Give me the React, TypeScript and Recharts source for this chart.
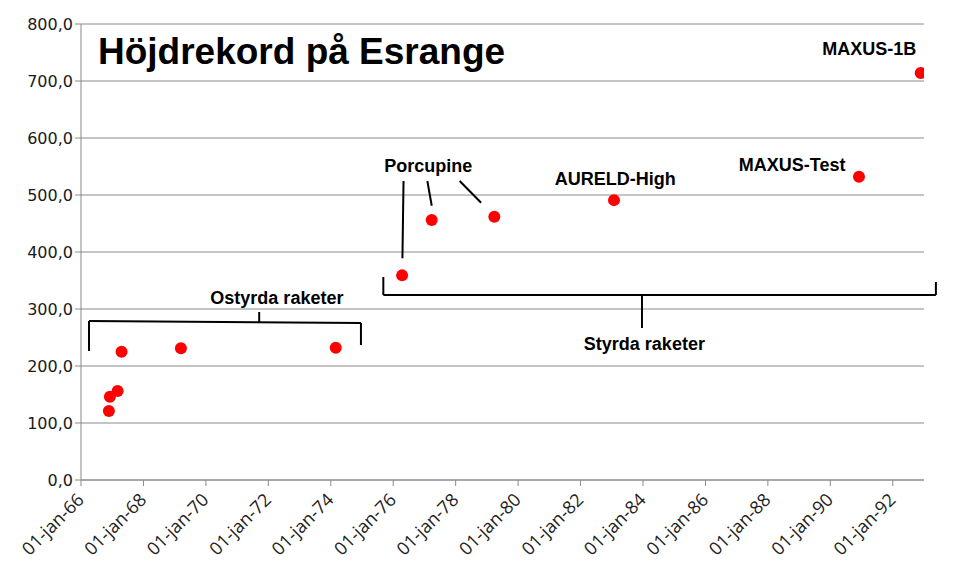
import React from 'react';
import {
  ScatterChart,
  Scatter,
  XAxis,
  YAxis,
  CartesianGrid,
  ReferenceLine,
  ReferenceDot,
} from 'recharts';

// ---- Data ----
const launchDates: string[] = [
  '1966-11-23',
  '1966-12-05',
  '1967-03-05',
  '1967-04-20',
  '1969-03-15',
  '1974-02-28',
  '1976-04-14',
  '1977-03-27',
  '1979-03-29',
  '1983-01-27',
  '1990-12-02',
  '1992-11-23',
];
const apogeeKm: number[] = [121, 146, 156, 225, 231, 232, 359, 456, 462, 491, 532, 714];

const xTickYears: number[] = [1966, 1968, 1970, 1972, 1974, 1976, 1978, 1980, 1982, 1984, 1986, 1988, 1990, 1992];
const yTicks: number[] = [0, 100, 200, 300, 400, 500, 600, 700, 800];

const titleText = 'Höjdrekord på Esrange';

// text annotations: label, year, km
const labelNames: string[] = ['Porcupine', 'AURELD-High', 'MAXUS-Test', 'MAXUS-1B', 'Ostyrda raketer', 'Styrda raketer'];
const labelYears: number[] = [1977.125, 1983.108, 1988.777, 1991.245, 1972.274, 1984.044];
const labelKm: number[] = [550.9, 528.1, 553.2, 757.0, 319.3, 239.1];

// annotation line segments: [x1, y1, x2, y2] in (year, km)
const bracketOstyrda: number[][] = [
  [1966.256, 226.3, 1966.256, 278.9],
  [1966.256, 278.9, 1974.966, 275.4],
  [1974.966, 275.4, 1974.966, 236.8],
  [1971.707, 294.7, 1971.707, 277.2],
];
const bracketStyrda: number[][] = [
  [1975.683, 356.1, 1975.683, 324.6],
  [1975.683, 324.6, 1993.381, 324.6],
  [1993.381, 324.6, 1993.381, 347.4],
  [1983.967, 324.6, 1983.967, 266.7],
];
const porcupineLines: number[][] = [
  [1976.33, 524.6, 1976.295, 388.9],
  [1977.093, 524.6, 1977.234, 481.2],
  [1978.129, 524.6, 1978.815, 486.5],
];

// ---- helpers ----
const toYear = (iso: string): number => {
  const d = new Date(iso + 'T00:00:00Z');
  const y = d.getUTCFullYear();
  const start = Date.UTC(y, 0, 1);
  const end = Date.UTC(y + 1, 0, 1);
  return y + (d.getTime() - start) / (end - start);
};

const points = launchDates.map((d, i) => ({ x: toYear(d), y: apogeeKm[i] }));

const fmtX = (v: number) => `01-jan-${String(Math.round(v) % 100).padStart(2, '0')}`;
const fmtY = (v: number) => v.toFixed(1).replace('.', ',');

const XTick = (props: any) => {
  const { x, y, payload } = props;
  const ax = x + 4;
  const ay = y + 13;
  return (
    <text
      x={ax}
      y={ay}
      textAnchor="end"
      transform={`rotate(-45 ${ax} ${ay})`}
      fontSize={18}
      fontFamily="'Open Sans', sans-serif"
      fill="#222"
    >
      {fmtX(payload.value)}
    </text>
  );
};

const RedDot = (props: any) => <circle cx={props.cx} cy={props.cy} r={6} fill="#ff0000" />;

const segs = [...bracketOstyrda, ...bracketStyrda, ...porcupineLines];

export default function App() {
  return (
    <div style={{ position: 'relative', width: 951, height: 569 }}>
      <ScatterChart width={951} height={569} margin={{ top: 16, right: 35, bottom: 5, left: 0 }}>
        <CartesianGrid vertical={false} stroke="#8a8a8a" strokeWidth={1} />
        <XAxis
          type="number"
          dataKey="x"
          domain={[1966, 1993]}
          ticks={xTickYears}
          interval={0}
          tick={<XTick />}
          height={92}
          stroke="#8a8a8a"
          tickLine={{ stroke: '#8a8a8a' }}
          axisLine={{ stroke: '#8a8a8a' }}
          allowDataOverflow
        />
        <YAxis
          type="number"
          dataKey="y"
          domain={[0, 800]}
          ticks={yTicks}
          interval={0}
          tickFormatter={fmtY}
          width={73}
          stroke="#8a8a8a"
          tick={{ fill: '#1a1a1a', fontSize: 16, fontFamily: "'DejaVu Sans', sans-serif" }}
          axisLine={{ stroke: '#8a8a8a' }}
          tickLine={{ stroke: '#8a8a8a' }}
        />
        {segs.map((s, i) => (
          <ReferenceLine
            key={'s' + i}
            segment={[
              { x: s[0], y: s[1] },
              { x: s[2], y: s[3] },
            ]}
            stroke="#000"
            strokeWidth={2}
            ifOverflow="visible"
          />
        ))}
        {labelNames.map((n, i) => (
          <ReferenceDot
            key={'l' + i}
            x={labelYears[i]}
            y={labelKm[i]}
            r={0}
            fill="none"
            stroke="none"
            ifOverflow="visible"
            label={{
              value: n,
              position: 'center',
              fill: '#000',
              fontSize: 18,
              fontWeight: 'bold',
              fontFamily: "'Liberation Sans', Arial, sans-serif",
            }}
          />
        ))}
        <Scatter data={points} shape={<RedDot />} isAnimationActive={false} />
      </ScatterChart>
      <div
        style={{
          position: 'absolute',
          left: 90,
          top: 25,
          fontFamily: "'Liberation Sans', Arial, sans-serif",
          fontWeight: 'bold',
          fontSize: 37,
          lineHeight: '37px',
          color: '#000',
          whiteSpace: 'nowrap',
        }}
      >
        {titleText}
      </div>
    </div>
  );
}
